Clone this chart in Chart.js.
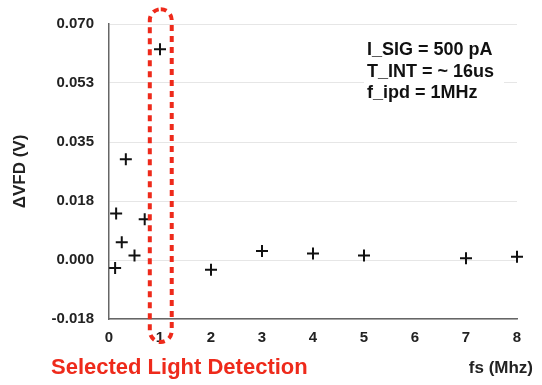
<!DOCTYPE html>
<html>
<head>
<meta charset="utf-8">
<script src="https://cdn.jsdelivr.net/npm/chart.js@4.4.1/dist/chart.umd.min.js"></script>
<style>
  html, body { margin: 0; padding: 0; background: #fff; }
</style>
</head>
<body>
<canvas id="vfdChart" width="542" height="385"></canvas>
<script>
// fs (MHz) vs delta VFD (V)
const fsValues  = [0.12, 0.14, 0.25, 0.33, 0.5, 0.7, 1, 2, 3, 4, 5, 7, 8];
const vfdValues = [-0.0024, 0.0138, 0.0053, 0.0299, 0.0013, 0.0121, 0.0625, -0.0029, 0.0027, 0.0019, 0.0013, 0.0005, 0.001];

const yTickValues = [-0.0175, 0, 0.0175, 0.035, 0.0525, 0.07];
const yTickLabels = ['-0.018', '0.000', '0.018', '0.035', '0.053', '0.070'];
const xTickLabels = ['0', '1', '2', '3', '4', '5', '6', '7', '8'];

// highlighted region around fs = 1 (data units)
const highlightX = [0.8, 1.23];
const highlightY = [-0.0243, 0.0744];

const noteLines = ['I_SIG = 500 pA', 'T_INT = ~ 16us', 'f_ipd = 1MHz'];

const FONT = '"Liberation Sans", Arial, Helvetica, sans-serif';

const overlay = {
    id: 'overlay',
    afterDatasetsDraw(chart) {
        const ctx = chart.ctx;
        const xs = chart.scales.x, ys = chart.scales.y;
        const area = chart.chartArea;

        // note box
        ctx.save();
        ctx.font = 'bold 18px ' + FONT;
        ctx.fillStyle = '#fff';
        ctx.fillRect(area.left + 255, area.top + 12, 140, 68);
        ctx.fillStyle = '#111';
        ctx.textBaseline = 'middle';
        noteLines.forEach((t, i) => {
            ctx.fillText(t, area.left + 258, area.top + 26 + i * 21.7);
        });
        ctx.restore();

        // red dashed capsule
        const x1 = xs.getPixelForValue(highlightX[0]);
        const x2 = xs.getPixelForValue(highlightX[1]);
        const y1 = ys.getPixelForValue(highlightY[1]);
        const y2 = ys.getPixelForValue(highlightY[0]);
        ctx.save();
        ctx.strokeStyle = '#ee2a1b';
        ctx.lineWidth = 4;
        ctx.setLineDash([6, 5]);
        ctx.beginPath();
        ctx.roundRect(x1, y1, x2 - x1, y2 - y1, (x2 - x1) / 2);
        ctx.stroke();
        ctx.restore();

        // bottom labels
        ctx.save();
        ctx.textBaseline = 'middle';
        ctx.font = 'bold 22px ' + FONT;
        ctx.fillStyle = '#ee2a1b';
        ctx.fillText('Selected Light Detection', 51, 368);
        ctx.font = 'bold 17px ' + FONT;
        ctx.fillStyle = '#222';
        ctx.textAlign = 'right';
        ctx.fillText('fs (Mhz)', 533, 368);
        ctx.restore();
    }
};

const ctx = document.getElementById('vfdChart').getContext('2d');
const vfdChart = new Chart(ctx, {
    type: 'scatter',
    data: {
        datasets: [{
            label: 'ΔVFD',
            data: fsValues.map((x, i) => ({ x: x, y: vfdValues[i] })),
            pointStyle: 'cross',
            pointRadius: 6,
            pointBorderWidth: 2,
            borderColor: '#111',
            backgroundColor: '#111',
            clip: false
        }]
    },
    options: {
        responsive: false,
        animation: false,
        layout: { padding: { top: 22, right: 25, left: 0, bottom: 0 } },
        plugins: {
            legend: { display: false },
            tooltip: { enabled: false }
        },
        scales: {
            x: {
                type: 'linear',
                min: 0,
                max: 8,
                afterFit(scale) { scale.height = 66; },
                ticks: {
                    stepSize: 1,
                    padding: 10,
                    color: '#222',
                    font: { family: FONT, size: 15, weight: 'bold' },
                    callback: (v) => xTickLabels[v]
                },
                grid: { display: false, drawTicks: false },
                border: { color: '#666', width: 1.5 }
            },
            y: {
                min: -0.0175,
                max: 0.07,
                afterFit(scale) { scale.width = 109; },
                afterBuildTicks(scale) {
                    scale.ticks = yTickValues.map(v => ({ value: v }));
                },
                ticks: {
                    padding: 15,
                    color: '#222',
                    font: { family: FONT, size: 15, weight: 'bold' },
                    callback: (v, i) => yTickLabels[i]
                },
                grid: { color: '#e6e6e6', lineWidth: 1, drawTicks: false },
                border: { color: '#666', width: 1.5 },
                title: {
                    display: true,
                    text: 'ΔVFD (V)',
                    color: '#222',
                    font: { family: FONT, size: 17, weight: 'bold' },
                    padding: { top: 10, bottom: 0 }
                }
            }
        }
    },
    plugins: [overlay]
});
</script>
</body>
</html>
